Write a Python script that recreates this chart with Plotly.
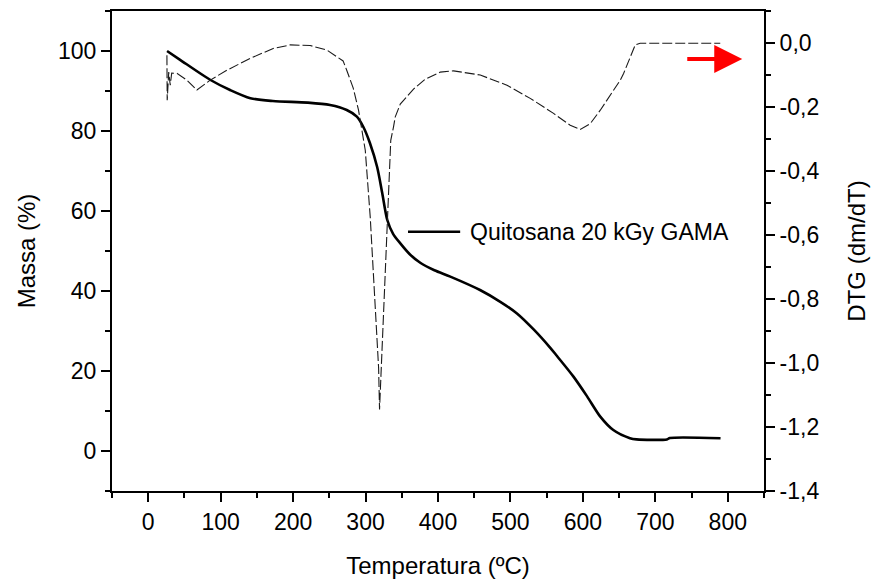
import plotly.graph_objects as go

# ---- data ----
temp_tga = [26, 44, 86, 113, 141, 172, 220, 251, 274, 288, 297, 306, 316, 323, 330, 338,
            348, 361, 376, 395, 417, 458, 486, 509, 532, 555, 564, 587, 606, 624, 642,
            665, 674, 716, 720, 790]
mass_pct = [100, 97.8, 92.75, 90.25, 88.2, 87.5, 87.1, 86.5, 85.25, 83.6, 81, 77, 71, 64.5,
            57.75, 54.3, 51.9, 49.2, 47.0, 45.2, 43.6, 40.25, 37.3, 34.4, 30.4, 25.8, 23.8,
            18.6, 13.6, 8.6, 5.25, 3.2, 2.9, 2.9, 3.25, 3.2]

temp_dtg = [25.8, 26.2, 28.3, 30.4, 32.4, 39.6, 53.4, 67.2, 85.6, 108.6, 140.8, 172.5, 196,
            223.6, 246.6, 260.5, 269, 274, 283, 290.3, 299.6, 306.5, 313.4, 318, 319.3,
            322.6, 327.2, 331.7, 334.8, 338.6, 341, 347.9, 366.2, 382.4, 403, 421.5, 458.3,
            495.2, 527.3, 559.5, 582.5, 596.4, 610.2, 624, 633.2, 651.6, 656.2, 672.3, 679,
            789.6]
dtg = [-0.038, -0.179, -0.091, -0.132, -0.094, -0.095, -0.116, -0.147, -0.116, -0.085,
       -0.048, -0.017, -0.006, -0.008, -0.022, -0.043, -0.056, -0.085, -0.141, -0.21,
       -0.335, -0.545, -0.806, -1.015, -1.145, -0.962, -0.70, -0.44, -0.304, -0.262,
       -0.231, -0.191, -0.144, -0.113, -0.091, -0.087, -0.1, -0.132, -0.173, -0.22,
       -0.257, -0.27, -0.252, -0.21, -0.179, -0.116, -0.095, -0.006, -0.001, -0.001]

x_ticks = [0, 100, 200, 300, 400, 500, 600, 700, 800]
y_ticks = [0, 20, 40, 60, 80, 100]
y2_ticks = [0.0, -0.2, -0.4, -0.6, -0.8, -1.0, -1.2, -1.4]
y2_labels = ["0,0", "-0,2", "-0,4", "-0,6", "-0,8", "-1,0", "-1,2", "-1,4"]

series_name = "Quitosana 20 kGy GAMA"
x_title = "Temperatura (ºC)"
y_title = "Massa (%)"
y2_title = "DTG (dm/dT)"

FONT = "Liberation Sans, Arial, sans-serif"

fig = go.Figure()
fig.add_trace(go.Scatter(x=temp_dtg, y=dtg, mode="lines", yaxis="y2",
                         line=dict(color="#1a1a1a", width=1.1, dash="10px,3px"),
                         showlegend=False, name="DTG"))
fig.add_trace(go.Scatter(x=temp_tga, y=mass_pct, mode="lines",
                         line=dict(color="black", width=2.6, shape="spline", smoothing=0.8),
                         showlegend=False, name=series_name))

axis_common = dict(showgrid=False, zeroline=False, showline=True, linecolor="black",
                   linewidth=2, ticks="outside", ticklen=9, tickwidth=2, tickcolor="black",
                   tickfont=dict(family=FONT, size=23, color="black"))

fig.update_layout(
    width=877, height=584,
    margin=dict(l=112, r=113, t=11, b=93, autoexpand=False),
    paper_bgcolor="white", plot_bgcolor="white",
    font=dict(family=FONT, color="black"),
    xaxis=dict(range=[-50, 850], tickvals=x_ticks, mirror=True,
               minor=dict(dtick=50, tick0=0, ticks="outside", ticklen=5, tickwidth=2, tickcolor="black"),
               title=dict(text=x_title, font=dict(family=FONT, size=24), standoff=24),
               **axis_common),
    yaxis=dict(range=[-10, 110], tickvals=y_ticks,
               minor=dict(dtick=10, tick0=0, ticks="outside", ticklen=5, tickwidth=2, tickcolor="black"),
               title=dict(text=y_title, font=dict(family=FONT, size=24), standoff=16),
               **axis_common),
    yaxis2=dict(range=[-1.4, 0.1], overlaying="y", side="right", anchor="x",
                tickvals=y2_ticks, ticktext=y2_labels,
                minor=dict(dtick=0.1, tick0=0, ticks="outside", ticklen=5, tickwidth=2, tickcolor="black"),
                title=dict(text=y2_title, font=dict(family=FONT, size=24), standoff=30),
                **axis_common),
    shapes=[dict(type="line", xref="paper", yref="paper", x0=0.454, x1=0.534,
                 y0=0.54, y1=0.54, line=dict(color="black", width=2.4))],
    annotations=[
        dict(xref="paper", yref="paper", x=0.546, y=0.54, text=series_name,
             showarrow=False, xanchor="left", yanchor="middle",
             font=dict(family=FONT, size=23, color="black")),
        dict(x=820, y=-0.05, xref="x", yref="y2", ax=742, ay=-0.05, axref="x", ayref="y2",
             text="", showarrow=True, arrowhead=2, arrowsize=1.4, arrowwidth=4,
             arrowcolor="#ff0000"),
    ],
)

fig.write_html("out.html")
